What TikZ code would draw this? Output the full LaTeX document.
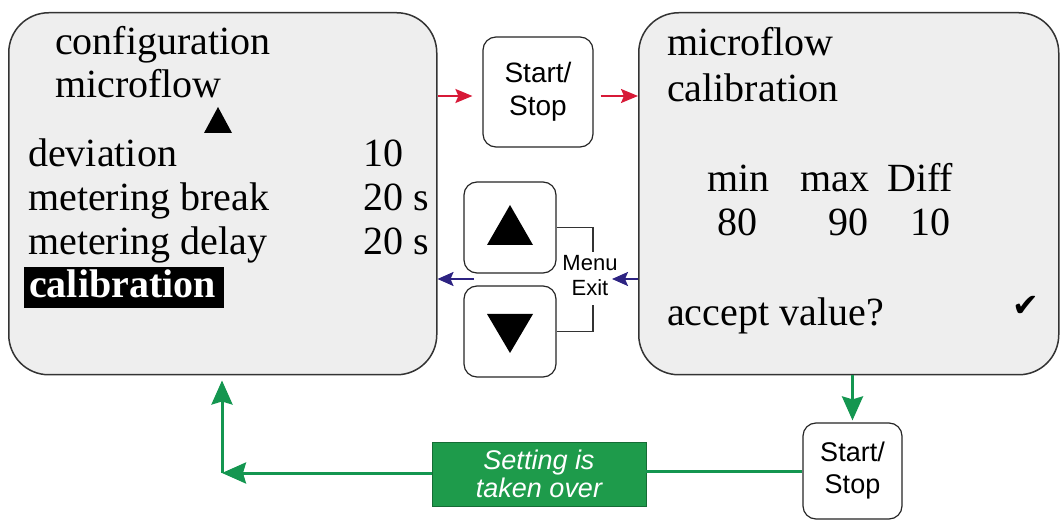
\documentclass[tikz,border=0pt]{standalone}
\usepackage{fontspec}
\setmainfont{Liberation Serif}
\setsansfont{Liberation Sans}
\newfontfamily\symfont{DejaVu Sans}
\usetikzlibrary{arrows.meta}
\definecolor{panelfill}{RGB}{238,238,238}
\definecolor{arrred}{RGB}{215,25,55}
\definecolor{arrblue}{RGB}{45,35,130}
\definecolor{arrgreen}{RGB}{20,150,80}
\definecolor{boxgreen}{RGB}{30,155,75}
\begin{document}
\begin{tikzpicture}[x=1pt,y=-1pt,
  panel/.style={draw=black!80, line width=1.5pt, fill=panelfill, rounded corners=40pt, inner sep=0pt},
  btn/.style={draw=black!85, line width=1.2pt, fill=white, rounded corners=13pt, inner sep=0pt},
  ptxt/.style={anchor=base west, inner sep=0pt, font=\fontsize{40}{44}\selectfont},
  btxt/.style={font=\sffamily\fontsize{28}{33}\selectfont, align=center},
  redarr/.style={draw=arrred, line width=2pt, -{Stealth[length=17pt,width=14pt,inset=3pt]}},
  bluearr/.style={draw=arrblue, line width=2pt, -{Stealth[length=16pt,width=14pt,inset=3pt]}},
  greenarr/.style={draw=arrgreen, line width=3pt, -{Stealth[length=24pt,width=21pt,inset=3pt]}},
  greenline/.style={draw=arrgreen, line width=3pt},
  thinline/.style={draw=black!80, line width=1.2pt}
]
\useasboundingbox (0,0) rectangle (1061,521);

% panels
\node[panel, minimum width=428pt, minimum height=362pt, anchor=north west] (left) at (8,12) {};
\node[panel, minimum width=420pt, minimum height=362pt, anchor=north west] (right) at (638,12) {};

% left panel text
\node[ptxt] (l1) at (55,55) {configuration};
\node[ptxt] (l2) at (55,98) {microflow};
\fill (204,133) -- (232,133) -- (218,107) -- cycle;
\node[ptxt] (l3) at (28,167) {deviation};
\node[ptxt] (l4) at (28,211) {metering break};
\node[ptxt] (l5) at (28,255) {metering delay};
\node[ptxt] (v3) at (363,167) {10};
\node[ptxt] (v4) at (363,211) {20 s};
\node[ptxt] (v5) at (363,255) {20 s};
\fill[black] (24,267) rectangle (224,308);
\node[ptxt, text=white, font=\bfseries\fontsize{40}{44}\selectfont] (l6) at (29,298) {calibration};

% right panel text
\node[ptxt] (r1) at (667,56) {microflow};
\node[ptxt] (r2) at (667,102) {calibration};
\node[ptxt] (r3) at (707,192) {min};
\node[ptxt] (r4) at (800,192) {max};
\node[ptxt] (r5) at (887,192) {Diff};
\node[ptxt] (r6) at (717,236) {80};
\node[ptxt] (r7) at (828,236) {90};
\node[ptxt] (r8) at (910,236) {10};
\node[ptxt] (r9) at (667,326) {accept value?};
\node[anchor=base west, inner sep=0pt, font=\symfont\fontsize{32}{32}\selectfont] (chk) at (1012,317) {✔};

% buttons
\node[btn, minimum width=110pt, minimum height=110pt, btxt] (ss1) at (538,92) {Start/\\Stop};
\node[btn, minimum width=92pt, minimum height=91pt] (up) at (510,227.5) {};
\node[btn, minimum width=92pt, minimum height=91pt] (down) at (510,331.5) {};
\fill (487,245) -- (533,245) -- (510,205) -- cycle;
\fill (487,314) -- (533,314) -- (510,353) -- cycle;
\node[btn, minimum width=99pt, minimum height=96pt, btxt, font=\sffamily\fontsize{27}{32}\selectfont] (ss2) at (852.5,471) {Start/\\Stop};

% Menu/Exit
\node[font=\sffamily\fontsize{22}{25}\selectfont, align=center, inner sep=0pt] (menu) at (590,276) {Menu\\Exit};
\coordinate (bt) at (593,252);
\coordinate (bb) at (593,305);
\draw[thinline] (up.east) -| (bt);
\draw[thinline] (down.east) -| (bb);

% green box
\node[fill=boxgreen, draw=boxgreen!70!black, line width=0.8pt, minimum width=214pt, minimum height=64pt, inner sep=0pt,
      text=white, align=center, font=\sffamily\itshape\fontsize{27}{28}\selectfont] (gbox) at (539,474) {Setting is\\taken over};

% red arrows
\draw[redarr] ([yshift=-4pt]left.east |- ss1.west) -- ([xshift=-10pt,yshift=-4pt]ss1.west);
\draw[redarr] ([xshift=7pt,yshift=-4pt]ss1.east) -- ([yshift=-4pt]right.west |- ss1.east);

% blue arrows
\coordinate (mtip) at (612,279);
\coordinate (ltail) at (474,279);
\draw[bluearr] (right.west |- mtip) -- (mtip);
\draw[bluearr] (ltail) -- (left.east |- ltail);

% green arrows
\coordinate (corner) at (222,473);
\draw[greenarr, shorten >=2pt] (right.south -| ss2.north) -- (ss2.north);
\draw[greenline] (ss2.west) -- (gbox.east |- ss2.west);
\draw[greenarr] (gbox.west |- corner) -- (corner);
\draw[greenarr, shorten >=5pt] (corner) -- (corner |- left.south);
\end{tikzpicture}
\end{document}
